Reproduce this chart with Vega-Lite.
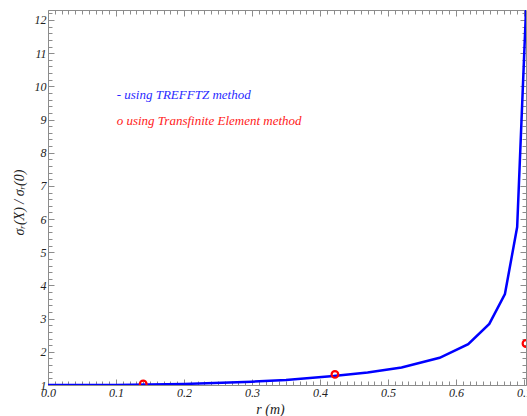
{
  "$schema": "https://vega.github.io/schema/vega-lite/v6.json",
  "width": 478,
  "height": 375,
  "autosize": {"type": "none"},
  "padding": {"left": 48, "top": 10, "right": 1, "bottom": 31},
  "background": "white",
  "config": {
    "view": {"stroke": null},
    "axis": {
      "grid": false,
      "domainColor": "#8c8c8c",
      "tickColor": "#8c8c8c",
      "tickWidth": 1,
      "labelFont": "Liberation Serif",
      "labelFontStyle": "italic",
      "labelFontSize": 12,
      "labelColor": "#222222",
      "titleFont": "Liberation Serif",
      "titleFontStyle": "italic",
      "titleFontWeight": "normal",
      "titleFontSize": 14,
      "titleColor": "#222222",
      "labelOverlap": false,
      "labelFlush": false
    }
  },
  "datasets": {
    "trefftz": [
      {"r": 0.0, "ratio": 1.0},
      {"r": 0.1, "ratio": 1.0},
      {"r": 0.2, "ratio": 1.03},
      {"r": 0.3, "ratio": 1.1},
      {"r": 0.35, "ratio": 1.15},
      {"r": 0.42, "ratio": 1.27},
      {"r": 0.47, "ratio": 1.38},
      {"r": 0.52, "ratio": 1.53},
      {"r": 0.576, "ratio": 1.82},
      {"r": 0.618, "ratio": 2.23},
      {"r": 0.649, "ratio": 2.84},
      {"r": 0.672, "ratio": 3.74},
      {"r": 0.69, "ratio": 5.76},
      {"r": 0.703, "ratio": 12.3}
    ],
    "transfinite": [
      {"r": 0.14, "ratio": 1.03},
      {"r": 0.422, "ratio": 1.32},
      {"r": 0.703, "ratio": 2.25}
    ],
    "notes": [
      {"label": "- using TREFFTZ method", "method": "TREFFTZ", "r": 0.101, "ratio": 9.73},
      {"label": "o using Transfinite Element method", "method": "Transfinite", "r": 0.101, "ratio": 8.95}
    ]
  },
  "resolve": {"axis": {"x": "independent", "y": "independent"}},
  "layer": [
    {
      "data": {"name": "trefftz"},
      "mark": {"type": "line", "color": "#0000ff", "strokeWidth": 2.5, "clip": true},
      "encoding": {
        "x": {
          "field": "r", "type": "quantitative",
          "scale": {"domain": [0, 0.703], "nice": false, "zero": false},
          "axis": {
            "orient": "bottom",
            "title": "r (m)",
            "titleX": 222, "titleY": 24, "titleBaseline": "middle",
            "values": [0,0.01,0.02,0.03,0.04,0.05,0.06,0.07,0.08,0.09,0.1,0.11,0.12,0.13,0.14,0.15,0.16,0.17,0.18,0.19,0.2,0.21,0.22,0.23,0.24,0.25,0.26,0.27,0.28,0.29,0.3,0.31,0.32,0.33,0.34,0.35,0.36,0.37,0.38,0.39,0.4,0.41,0.42,0.43,0.44,0.45,0.46,0.47,0.48,0.49,0.5,0.51,0.52,0.53,0.54,0.55,0.56,0.57,0.58,0.59,0.6,0.61,0.62,0.63,0.64,0.65,0.66,0.67,0.68,0.69,0.7],
            "labelExpr": "abs(datum.value*10-round(datum.value*10))<0.001 ? format(datum.value,'.1f') : ''",
            "tickSize": {"condition": {"test": "abs(datum.value*10-round(datum.value*10))<0.001", "value": -6}, "value": -4},
            "labelPadding": 8
          }
        },
        "y": {
          "field": "ratio", "type": "quantitative",
          "scale": {"domain": [1, 12.3], "nice": false, "zero": false},
          "axis": {
            "orient": "left",
            "title": "σᵣ(X) / σᵣ(0)",
            "titleX": -29, "titleY": 192, "titleBaseline": "middle",
            "values": [1,1.2,1.4,1.6,1.8,2,2.2,2.4,2.6,2.8,3,3.2,3.4,3.6,3.8,4,4.2,4.4,4.6,4.8,5,5.2,5.4,5.6,5.8,6,6.2,6.4,6.6,6.8,7,7.2,7.4,7.6,7.8,8,8.2,8.4,8.6,8.8,9,9.2,9.4,9.6,9.8,10,10.2,10.4,10.6,10.8,11,11.2,11.4,11.6,11.8,12,12.2],
            "labelExpr": "abs(datum.value-round(datum.value))<0.001 ? format(datum.value,'d') : ''",
            "tickSize": {"condition": {"test": "abs(datum.value-round(datum.value))<0.001", "value": -6}, "value": -4},
            "labelPadding": 8
          }
        }
      }
    },
    {
      "data": {"name": "transfinite"},
      "mark": {"type": "point", "shape": "circle", "filled": false, "color": "#ff0000", "strokeWidth": 2.2, "size": 45, "opacity": 1, "clip": true},
      "encoding": {
        "x": {
          "field": "r", "type": "quantitative",
          "axis": {
            "orient": "top",
            "title": null,
            "labels": false,
            "values": [0,0.01,0.02,0.03,0.04,0.05,0.06,0.07,0.08,0.09,0.1,0.11,0.12,0.13,0.14,0.15,0.16,0.17,0.18,0.19,0.2,0.21,0.22,0.23,0.24,0.25,0.26,0.27,0.28,0.29,0.3,0.31,0.32,0.33,0.34,0.35,0.36,0.37,0.38,0.39,0.4,0.41,0.42,0.43,0.44,0.45,0.46,0.47,0.48,0.49,0.5,0.51,0.52,0.53,0.54,0.55,0.56,0.57,0.58,0.59,0.6,0.61,0.62,0.63,0.64,0.65,0.66,0.67,0.68,0.69,0.7],
            "tickSize": {"condition": {"test": "abs(datum.value*10-round(datum.value*10))<0.001", "value": -6}, "value": -4}
          }
        },
        "y": {
          "field": "ratio", "type": "quantitative",
          "axis": {
            "orient": "right",
            "title": null,
            "labels": false,
            "values": [1,1.2,1.4,1.6,1.8,2,2.2,2.4,2.6,2.8,3,3.2,3.4,3.6,3.8,4,4.2,4.4,4.6,4.8,5,5.2,5.4,5.6,5.8,6,6.2,6.4,6.6,6.8,7,7.2,7.4,7.6,7.8,8,8.2,8.4,8.6,8.8,9,9.2,9.4,9.6,9.8,10,10.2,10.4,10.6,10.8,11,11.2,11.4,11.6,11.8,12,12.2],
            "tickSize": {"condition": {"test": "abs(datum.value-round(datum.value))<0.001", "value": -6}, "value": -4}
          }
        }
      }
    },
    {
      "data": {"name": "notes"},
      "mark": {"type": "text", "align": "left", "baseline": "middle", "font": "Liberation Serif", "fontStyle": "italic", "fontSize": 13},
      "encoding": {
        "x": {"field": "r", "type": "quantitative", "axis": null},
        "y": {"field": "ratio", "type": "quantitative", "axis": null},
        "text": {"field": "label"},
        "color": {"field": "method", "type": "nominal", "scale": {"domain": ["TREFFTZ", "Transfinite"], "range": ["#2a2aff", "#ff1a1a"]}, "legend": null}
      }
    }
  ]
}
